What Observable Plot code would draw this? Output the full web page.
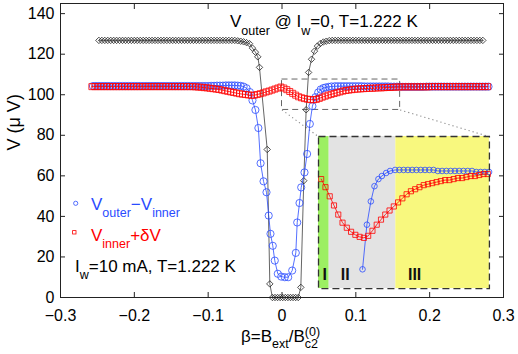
<!DOCTYPE html>
<html><head><meta charset="utf-8">
<script src="https://cdn.jsdelivr.net/npm/d3@7"></script>
<script src="https://cdn.jsdelivr.net/npm/@observablehq/plot@0.6"></script>
<style>
body{margin:0;background:#fff;}
#wrap{position:relative;width:518px;height:354px;overflow:hidden;background:#fff;}
</style></head><body><div id="wrap"></div>
<script>
// ---------------- data ----------------
// V_outer @ I_w = 0 (black diamonds)
const betaOuter = [-0.248,-0.244,-0.24,-0.236,-0.232,-0.228,-0.224,-0.22,-0.216,-0.212,
-0.208,-0.204,-0.2,-0.196,-0.192,-0.188,-0.184,-0.18,-0.176,-0.172,
-0.168,-0.164,-0.16,-0.156,-0.152,-0.148,-0.144,-0.14,-0.136,-0.132,
-0.128,-0.124,-0.12,-0.116,-0.112,-0.108,-0.104,-0.1,-0.096,-0.092,
-0.088,-0.084,-0.08,-0.076,-0.072,-0.068,-0.064,-0.06,-0.056,-0.052,
-0.048,-0.044,-0.04,-0.036,-0.0328,-0.0305,-0.02,-0.0165,-0.013,-0.0095,
-0.006,-0.0025,0.001,0.0045,0.008,0.0115,0.015,0.0185,0.022,0.0255,
0.0295,0.0327,0.036,0.04,0.044,0.048,0.052,0.056,0.06,0.064,
0.068,0.072,0.076,0.08,0.084,0.088,0.092,0.096,0.1,0.104,
0.108,0.112,0.116,0.12,0.124,0.128,0.132,0.136,0.14,0.144,
0.148,0.152,0.156,0.16,0.164,0.168,0.172,0.176,0.18,0.184,
0.188,0.192,0.196,0.2,0.204,0.208,0.212,0.216,0.22,0.224,
0.228,0.232,0.236,0.24,0.244,0.248,0.252,0.256,0.26,0.264,
0.268,0.272];
const vOuter = [126.8,126.8,126.8,126.8,126.8,126.8,126.8,126.8,126.8,126.8,
126.8,126.8,126.8,126.8,126.8,126.8,126.8,126.8,126.8,126.8,
126.8,126.8,126.8,126.8,126.8,126.8,126.8,126.8,126.8,126.8,
126.8,126.8,126.8,126.8,126.8,126.8,126.8,126.8,126.8,126.8,
126.8,126.8,126.8,126.8,126.8,126.8,126.8,126.6,126.4,126.1,
125.7,125.2,123.0,121.0,118.7,113.5,73.0,6.7,0,0,
0,0,0,0,0,0,0,0,0,5.0,
57.6,92.6,111.0,117.5,121.5,124.0,125.3,126.0,126.4,126.7,
126.8,126.8,126.8,126.8,126.8,126.8,126.8,126.8,126.8,126.8,
126.8,126.8,126.8,126.8,126.8,126.8,126.8,126.8,126.8,126.8,
126.8,126.8,126.8,126.8,126.8,126.8,126.8,126.8,126.8,126.8,
126.8,126.8,126.8,126.8,126.8,126.8,126.8,126.8,126.8,126.8,
126.8,126.8,126.8,126.8,126.8,126.8,126.8,126.8,126.8,126.8,
126.8,126.8];

// V_outer - V_inner (blue circles)
const betaDiff = [-0.256,-0.252,-0.248,-0.244,-0.24,-0.236,-0.232,-0.228,-0.224,-0.22,
-0.216,-0.212,-0.208,-0.204,-0.2,-0.196,-0.192,-0.188,-0.184,-0.18,
-0.176,-0.172,-0.168,-0.164,-0.16,-0.156,-0.152,-0.148,-0.144,-0.14,
-0.136,-0.132,-0.128,-0.124,-0.12,-0.116,-0.112,-0.108,-0.104,-0.1,
-0.096,-0.092,-0.088,-0.084,-0.08,-0.076,-0.072,-0.068,-0.064,-0.06,
-0.056,-0.052,
-0.048,-0.0435,-0.04,-0.036,-0.032,-0.029,-0.025,-0.021,-0.018,-0.0156,
-0.0125,-0.0098,-0.0057,-0.001,0.0038,0.0084,0.0138,0.0187,0.0206,0.0237,
0.026,0.0305,0.034,0.0377,0.0412,0.0453,0.049,0.0524,0.0561,0.0593,
0.0633,0.067,0.0717,
0.0757,0.0797,0.0837,0.0877,0.0917,0.0957,0.0997,0.1037,0.1077,0.1117,
0.1157,0.1197,0.1237,0.1277,0.1317,0.1357,0.1397,0.1437,0.1477,0.1517,
0.1557,0.1597,0.1637,0.1677,0.1717,0.1757,0.1797,0.1837,0.1877,0.1917,
0.1957,0.1997,0.2037,0.2077,0.2117,0.2157,0.2197,0.2237,0.2277,0.2317,
0.2357,0.2397,0.2437,0.2477,0.2517,0.2557,0.2597,0.2637,0.2677,0.2717,
0.2757,0.2797];
const vDiff = [104.3,104.3,104.3,104.3,104.3,104.3,104.3,104.3,104.3,104.3,
104.3,104.3,104.3,104.3,104.3,104.3,104.3,104.3,104.3,104.3,
104.3,104.3,104.3,104.3,104.3,104.3,104.3,104.3,104.3,104.3,
104.3,104.3,104.3,104.3,104.3,104.3,104.3,104.3,104.3,104.3,
104.4,104.4,104.5,104.5,104.5,104.6,104.6,104.6,104.6,104.5,
104.4,104.0,
103.2,101.3,97.2,92.5,83.6,66.2,57.3,51.9,40.4,31.4,
25.5,18.2,11.7,10.3,10.0,10.0,13.3,22.0,37.0,46.6,
54.3,61.7,70.8,85.6,94.4,98.8,101.1,102.6,103.3,103.6,
103.9,104.1,104.2,
104.2,104.2,104.2,104.2,104.2,104.2,104.2,104.2,104.2,104.1,
104.1,104.1,104.1,104.1,104.1,104.1,104.1,104.1,104.0,104.0,
104.0,104.0,103.9,103.9,103.9,103.9,103.9,103.9,103.9,103.9,
104.0,104.0,104.0,104.0,104.0,104.0,104.0,104.0,104.0,104.0,
104.0,104.0,104.0,104.0,104.0,104.0,104.0,104.0,104.0,104.0,
104.0,104.0];

// V_inner + dV (red squares)
const betaInner = [-0.2575,-0.2535,-0.2495,-0.2455,-0.2415,-0.2375,-0.2335,-0.2295,-0.2255,-0.2215,
-0.2175,-0.2135,-0.2095,-0.2055,-0.2015,-0.1975,-0.1935,-0.1895,-0.1855,-0.1815,
-0.1775,-0.1735,-0.1695,-0.1655,-0.1615,-0.1575,-0.1535,-0.1495,-0.1455,-0.1415,
-0.1375,-0.1335,-0.1295,-0.1255,-0.1215,
-0.1175,-0.1135,-0.1095,-0.1055,-0.1015,-0.0975,-0.0935,-0.0895,-0.0855,-0.0815,
-0.0775,-0.0735,-0.0695,-0.0655,-0.0615,-0.0575,-0.0535,-0.0495,-0.0455,-0.0415,
-0.0375,-0.0335,-0.0295,-0.0255,-0.0215,-0.0175,-0.0135,-0.0095,-0.0055,-0.0015,
0.0025,0.0065,0.0105,0.0145,0.0185,0.0225,0.0265,0.0305,0.0345,0.0385,
0.0425,0.0465,0.0505,0.0545,0.0585,0.0625,0.0665,0.0705,0.0745,0.0785,
0.0825,0.0865,0.0905,0.0945,0.0985,0.1025,0.1065,0.1105,0.1145,0.1185,
0.1225,0.1265,0.1305,0.1345,0.1385,0.1425,0.1465,0.1505,0.1545,0.1585,
0.1625,0.1665,0.1705,0.1745,0.1785,0.1825,0.1865,0.1905,0.1945,0.1985,
0.2025,0.2065,0.2105,0.2145,0.2185,0.2225,0.2265,0.2305,0.2345,0.2385,
0.2425,0.2465,0.2505,0.2545,0.2585,0.2625,0.2665,0.2705,0.2745,0.2785];
const vInner = [104.0,104.0,104.0,104.0,104.0,104.0,104.0,104.0,104.0,104.0,
104.0,104.0,104.0,104.0,104.0,104.0,104.0,104.0,104.0,104.0,
104.0,104.0,104.0,104.0,104.0,104.0,104.0,104.0,104.0,104.0,
104.0,104.0,104.0,104.0,104.0,
103.9,103.8,103.7,103.5,103.4,103.2,103.0,102.8,102.6,102.3,
102.0,101.7,101.4,101.1,100.8,100.5,100.3,100.1,99.9,99.7,
99.8,100.1,100.5,100.9,101.4,101.8,102.3,102.8,103.3,103.8,
103.3,102.5,101.6,100.7,99.8,99.0,98.5,98.1,97.8,97.6,
97.5,97.7,98.2,98.8,99.3,99.8,100.2,100.6,101.0,101.4,
101.8,102.1,102.3,102.5,102.7,102.8,102.9,103.0,103.1,103.2,
103.2,103.3,103.4,103.4,103.5,103.6,103.6,103.7,103.8,103.8,
103.9,103.9,103.9,103.9,103.9,103.9,103.9,103.9,103.9,103.9,
104.0,104.0,104.0,104.0,104.0,104.0,104.0,104.0,104.0,104.0,
104.0,104.0,104.0,104.0,104.0,104.0,104.0,104.0,104.0,104.0];

const xTicks = [-0.3,-0.2,-0.1,0,0.1,0.2,0.3];
const yTicks = [0,20,40,60,80,100,120,140];
// zoom window shown in the inset (beta range, V range)
const zoomBeta = [0, 0.16];
const zoomV = [92.5, 107.5];
// regions in the inset
const regionLabels = ["I","II","III"];
const regionStart = [0, 0.0100, 0.0724];
const regionEnd = [0.0100, 0.0724, 0.16];

// ---------------- layout / style ----------------
const FONT = '"Liberation Sans", Arial, Helvetica, sans-serif';
const BLUE = "#2a4bff", RED = "#ff0000", DARK = "#222";
const regionFill = ["#9cef62", "#e3e3e3", "#f8f87e"];
const regionLabelBeta = [0.0058, 0.025, 0.090];
// inset placement expressed in main-plot data coordinates
const insetPlace = {b1: 0.0495, b2: 0.281, v1: 4.3, v2: 79.3};

const rows = (bs, vs) => bs.map((b, i) => ({b, v: vs[i]}));
const outer = rows(betaOuter, vOuter);
const diff = rows(betaDiff, vDiff);
const inner = rows(betaInner, vInner);
const zoomRect = [{b1: zoomBeta[0], b2: zoomBeta[1], v1: zoomV[0], v2: zoomV[1]}];
const links = [
  {x1: zoomBeta[0], y1: zoomV[0], x2: insetPlace.b1, y2: insetPlace.v2},
  {x1: zoomBeta[1], y1: zoomV[0], x2: insetPlace.b2, y2: insetPlace.v2}
];
const fmtX = d => d === 0 ? "0" : d3.format(".1f")(d);

const main = Plot.plot({
  width: 518, height: 354,
  marginTop: 3, marginRight: 15, marginBottom: 57, marginLeft: 60,
  style: {fontFamily: FONT, fontSize: "16px", background: "white", color: "#000"},
  x: {domain: [-0.3, 0.3]},
  y: {domain: [0, 145]},
  marks: [
    Plot.rect(zoomRect, {x1: "b1", x2: "b2", y1: "v1", y2: "v2", fill: "none", stroke: "#666", strokeDasharray: "6,4", strokeWidth: 1}),
    Plot.link(links, {x1: "x1", y1: "y1", x2: "x2", y2: "y2", stroke: "#888", strokeDasharray: "1.2,3", strokeWidth: 1.1}),
    Plot.line(outer, {x: "b", y: "v", stroke: DARK, strokeWidth: 0.7}),
    Plot.dot(outer, {x: "b", y: "v", symbol: "diamond2", r: 2.9, fill: "none", stroke: DARK, strokeWidth: 0.8}),
    Plot.line(diff, {x: "b", y: "v", stroke: BLUE, strokeWidth: 0.8}),
    Plot.dot(diff, {x: "b", y: "v", symbol: "circle", r: 3.6, fill: "none", stroke: BLUE, strokeWidth: 0.8}),
    Plot.line(inner, {x: "b", y: "v", stroke: RED, strokeWidth: 0.8}),
    Plot.dot(inner, {x: "b", y: "v", symbol: "square", r: 3.4, fill: "none", stroke: RED, strokeWidth: 0.8}),
    Plot.axisX({ticks: xTicks, tickSize: -5, tickPadding: 17, tickFormat: fmtX, label: null, stroke: DARK}),
    Plot.axisX({anchor: "top", ticks: xTicks, tickSize: -5, tickFormat: () => "", label: null, stroke: DARK}),
    Plot.axisY({ticks: yTicks, tickSize: -5, tickPadding: 11, tickFormat: d3.format("d"), label: null, stroke: DARK}),
    Plot.axisY({anchor: "right", ticks: yTicks, tickSize: -5, tickFormat: () => "", label: null, stroke: DARK}),
    Plot.frame({stroke: DARK, strokeWidth: 1}),
    Plot.text(["V (μ V)"], {frameAnchor: "left", rotate: -90, dx: -46, fontSize: 18, text: d => d})
  ]
});
const wrap = document.getElementById("wrap");
wrap.appendChild(main);
main.style.position = "absolute"; main.style.left = "0px"; main.style.top = "0px";

// ---------------- inset ----------------
const xs = main.scale("x"), ys = main.scale("y");
const L = xs.apply(insetPlace.b1), R = xs.apply(insetPlace.b2);
const T = ys.apply(insetPlace.v2), B = ys.apply(insetPlace.v1);
const inZoom = d => d.b >= zoomBeta[0] && d.b <= zoomBeta[1] && d.v >= zoomV[0] && d.v <= zoomV[1];
const regions = regionLabels.map((t, i) => ({t, s: regionStart[i], e: regionEnd[i], c: regionFill[i], lb: regionLabelBeta[i]}));
const inset = Plot.plot({
  width: R - L, height: B - T, margin: 0,
  style: {fontFamily: FONT, fontSize: "16px", background: "transparent", overflow: "visible"},
  x: {domain: zoomBeta, axis: null}, y: {domain: zoomV, axis: null},
  color: {type: "identity"},
  marks: [
    Plot.rect(regions, {x1: "s", x2: "e", y1: zoomV[0], y2: zoomV[1], fill: "c"}),
    Plot.line(diff.filter(inZoom), {x: "b", y: "v", stroke: BLUE, strokeWidth: 0.8}),
    Plot.dot(diff.filter(inZoom), {x: "b", y: "v", symbol: "circle", r: 2.8, fill: "none", stroke: BLUE, strokeWidth: 0.8}),
    Plot.line(inner.filter(inZoom), {x: "b", y: "v", stroke: RED, strokeWidth: 0.8}),
    Plot.dot(inner.filter(inZoom), {x: "b", y: "v", symbol: "square", r: 2.9, fill: "none", stroke: RED, strokeWidth: 0.8}),
    Plot.text(regions, {x: "lb", frameAnchor: "bottom", dy: -9, lineAnchor: "bottom", text: "t", fontSize: 16, fontWeight: "bold", fill: "#111"}),
    Plot.frame({stroke: "#333", strokeDasharray: "7,4", strokeWidth: 1.3})
  ]
});
inset.style.position = "absolute";
inset.style.left = L + "px";
inset.style.top = T + "px";
inset.style.maxWidth = "none";
wrap.appendChild(inset);

// ---------------- rich text annotations ----------------
const svg = d3.select(main);
function rich(x, y, parts, opt) {
  const t = svg.append("text").attr("x", x).attr("y", y)
    .attr("text-anchor", "start")
    .attr("fill", opt.color || "#000").attr("font-size", opt.size || 17)
    .attr("font-family", FONT);
  let shift = 0, prev = null;
  for (const p of parts) {
    const target = p.sub ? opt.subShift : p.sup ? -opt.supShift : 0;
    const ts = t.append("tspan").attr("dy", target - shift).text(p.t);
    if (p.sub || p.sup) ts.attr("font-size", opt.subSize || 12.5);
    if (p.back && prev) ts.attr("dx", -prev.node().getComputedTextLength());
    shift = target; prev = ts;
  }
  return t;
}
rich(230, 26.7, [{t: "V"}, {t: "outer", sub: true}, {t: " @ I"}, {t: "w", sub: true}, {t: "=0, T=1.222 K"}],
  {subShift: 8, subSize: 12.5});
rich(91, 210, [{t: "V"}, {t: "outer", sub: true}, {t: "\u2212V"}, {t: "inner", sub: true}],
  {color: BLUE, subShift: 7, subSize: 12.5});
rich(91, 240.7, [{t: "V"}, {t: "inner", sub: true}, {t: "+\u03b4V"}],
  {color: RED, subShift: 7, subSize: 12.5});
rich(75, 271.7, [{t: "I"}, {t: "w", sub: true}, {t: "=10 mA, T=1.222 K"}],
  {subShift: 7, subSize: 12.5});
rich(241, 341.5, [{t: "\u03b2=B"}, {t: "ext", sub: true}, {t: "/B"}, {t: "(0)", sup: true}, {t: "c2", sub: true, back: true}],
  {subShift: 6.5, supShift: 5.5, subSize: 12.5});
// legend symbols
svg.append("circle").attr("cx", 75.7).attr("cy", 203.3).attr("r", 2.1)
  .attr("fill", "none").attr("stroke", BLUE).attr("stroke-width", 0.8);
svg.append("rect").attr("x", 72.6).attr("y", 230.6).attr("width", 3.4).attr("height", 3.4)
  .attr("fill", "none").attr("stroke", RED).attr("stroke-width", 0.8);
</script></body></html>
